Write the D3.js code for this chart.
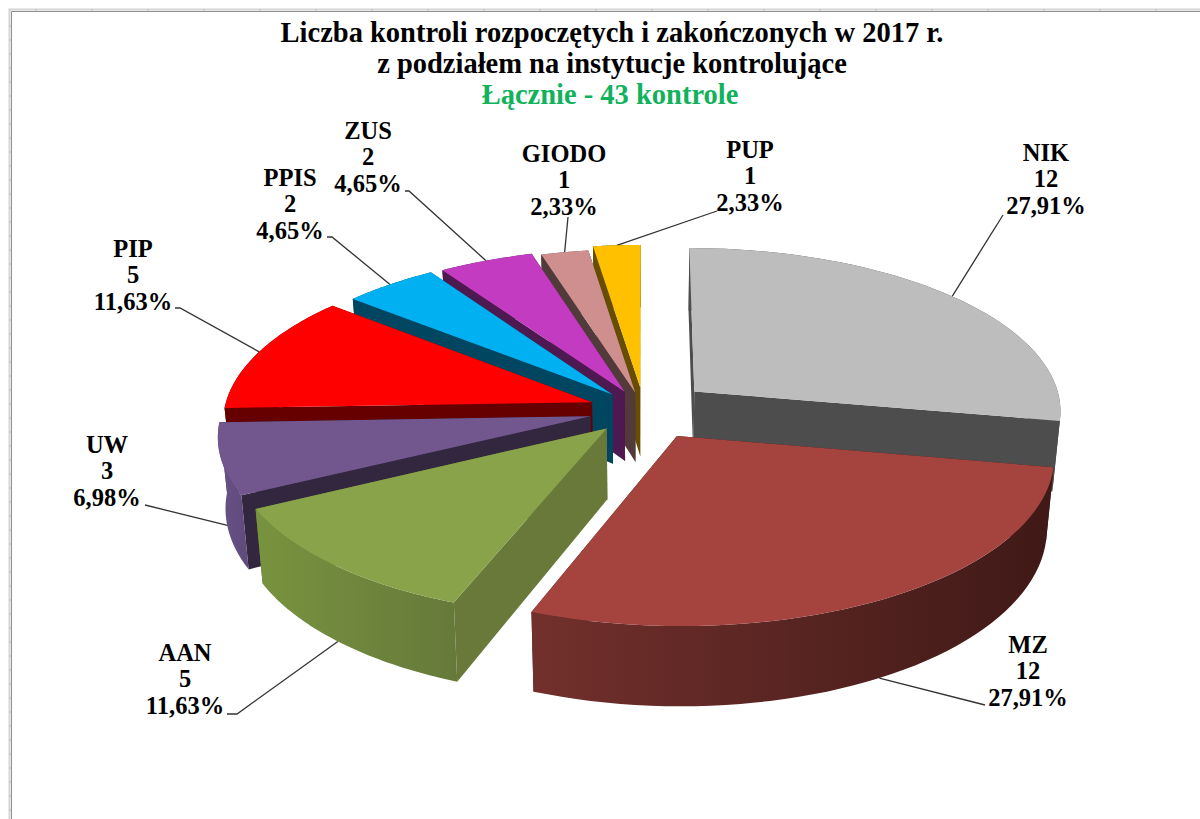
<!DOCTYPE html>
<html lang="pl">
<head>
<meta charset="utf-8">
<title>Liczba kontroli</title>
<script src="https://d3js.org/d3.v7.min.js"></script>
<style>
html,body{margin:0;padding:0;background:#fff;overflow:hidden}
svg{display:block}
text{font-family:"Liberation Serif","Times New Roman",serif;font-weight:bold}
</style>
</head>
<body>
<svg id="chart" width="1200" height="819"></svg>
<script>
// --- data
const categories = ["NIK","MZ","AAN","UW","PIP","PPIS","ZUS","GIODO","PUP"];
const counts     = [12,12,5,3,5,2,2,1,1];
const titleLines = ["Liczba kontroli rozpoczętych i zakończonych w 2017 r.","z podziałem na instytucje kontrolujące"];
const subtitle   = "Łącznie - 43 kontrole";

// --- styles
const topColors  = ["#bdbdbd","#a5443f","#88a34a","#72578f","#ff0000","#00b0f0","#c23bc0","#cf8f8f","#ffc000"];
const wallColors = ["#4d4d4d","#3f1a17","#68793a","#33263f","#660000","#004660","#4e1850","#533a3a","#664d00"];
const sideLeft   = ["#4d4d4d","#72302c","#78933f","#6a5388","#660000","#004660","#4e1850","#533a3a","#664d00"];
const sideRight  = ["#4d4d4d","#3f1917","#66793a","#5f4a7a","#660000","#004660","#4e1850","#533a3a","#664d00"];
const explode    = [.18,.18,.15,.15,.15,.13,.125,.11,.14];

// --- label layout: text centre x, first baseline y, leader start, elbow, leader end radius, at bottom of side?
const labelX     = [1046,1028,185,107,133,290,368,564,750];
const labelY     = [161,653,661,453,257,186,139,162,158];
const leaderFrom = [[1003,215],[985,705],[227,714],[145,505],[175,308],[327,237],[405,191],[568,217],[717,211]];
const leaderBend = [null,null,[237,714],null,[180,308],[332,237],[409,191],null,null];
const leaderAtBase = [0,1,1,1,0,0,0,0,0];
const leaderR    = [1,1,1,.96,1,1,1,1,1];

// --- projection constants
const W=1200,H=819, cx=644, cy=410, Rx=368, Ry=163, persp=.11, depth=70, shrink=.018;

function project(u,v,h){
  const k = 1/(1-persp*v);
  return [cx + u*k*Rx*(1-shrink*h), cy + v*k*Ry + h*depth*k];
}

const svg = d3.select("#chart");
const defs = svg.append("defs");

const pie = d3.pie().sort(null).startAngle(0).endAngle(2*Math.PI);
const arcs = pie(counts).map((d,i)=>{
  const mid=(d.startAngle+d.endAngle)/2;
  return {...d,i,mid,ex:Math.sin(mid)*explode[i],ey:-Math.cos(mid)*explode[i]};
});
const total = d3.sum(counts);
const pt = (a,θ,r,h)=>project(a.ex+r*Math.sin(θ), a.ey-r*Math.cos(θ), h);
const rim = (a,h)=>d3.range(0,49).map(j=>{
  const θ=a.startAngle+(a.endAngle-a.startAngle)*j/48;
  return pt(a,θ,1,h);
});
const line = d3.line();

// frame
const frame = svg.append("g");
frame.append("path").attr("d","M9.5,819V9.5H1200").attr("fill","none").attr("stroke","#d4d4d4").attr("stroke-width",2);
frame.append("path").attr("d","M11.5,819V11.5H1200").attr("fill","none").attr("stroke","#8f8f8f").attr("stroke-width",1);
frame.selectAll("line.tx").data(d3.range(36,1200,56)).join("line")
  .attr("x1",d=>d).attr("x2",d=>d).attr("y1",9).attr("y2",11).attr("stroke","#bdbdbd");
frame.selectAll("line.ty").data(d3.range(26,819,14)).join("line")
  .attr("x1",9).attr("x2",11).attr("y1",d=>d).attr("y2",d=>d).attr("stroke","#bdbdbd");

// titles
const tg = svg.append("g").attr("text-anchor","middle");
tg.selectAll("text.t").data(titleLines).join("text").attr("class","t")
  .attr("x",612).attr("y",(d,i)=>42+i*31).attr("font-size",28.5).attr("fill","#000").text(d=>d);
tg.append("text").attr("x",610).attr("y",104).attr("font-size",28.5).attr("fill","#10b25c").text(subtitle);

// leaders (drawn under the slices so they stop at their edge)
svg.append("g").selectAll("path").data(arcs).join("path")
  .attr("fill","none").attr("stroke","#333").attr("stroke-width",1.3)
  .attr("d",a=>{
    const pts=[leaderFrom[a.i]];
    if(leaderBend[a.i]) pts.push(leaderBend[a.i]);
    pts.push(pt(a,a.mid,leaderR[a.i],leaderAtBase[a.i]));
    return line(pts);
  });

// slices, back to front
const order = arcs.slice().sort((p,q)=>(-Math.cos(p.mid))-(-Math.cos(q.mid)));
const sg = svg.append("g");
order.forEach(a=>{
  const g = sg.append("g");
  const apexT=project(a.ex,a.ey,0), apexB=project(a.ex,a.ey,1);
  const top=rim(a,0), bottom=rim(a,1);
  const xs=top.concat(bottom).map(p=>p[0]);
  const id="side"+a.i;
  const lg=defs.append("linearGradient").attr("id",id).attr("gradientUnits","userSpaceOnUse")
    .attr("x1",d3.min(xs)).attr("x2",d3.max(xs)).attr("y1",0).attr("y2",0);
  lg.append("stop").attr("offset",0).attr("stop-color",sideLeft[a.i]);
  lg.append("stop").attr("offset",1).attr("stop-color",sideRight[a.i]);
  // radial walls
  [[top[0],bottom[0]],[top[48],bottom[48]]].forEach(w=>{
    g.append("path").attr("d",line([apexT,w[0],w[1],apexB])+"Z").attr("fill",wallColors[a.i]);
  });
  // outer side
  g.append("path").attr("d",line(top.concat(bottom.slice().reverse()))+"Z").attr("fill",`url(#${id})`);
  // top
  g.append("path").attr("d",line([apexT].concat(top))+"Z").attr("fill",topColors[a.i]);
});

// labels
const lg = svg.append("g").attr("text-anchor","middle").attr("font-size",24.5).attr("fill","#000");
arcs.forEach(a=>{
  const lines=[categories[a.i],String(counts[a.i]),(counts[a.i]/total*100).toFixed(2).replace(".",",")+"%"];
  lines.forEach((t,j)=>lg.append("text").attr("x",labelX[a.i]).attr("y",labelY[a.i]+j*26.3).text(t));
});
</script>
</body>
</html>
